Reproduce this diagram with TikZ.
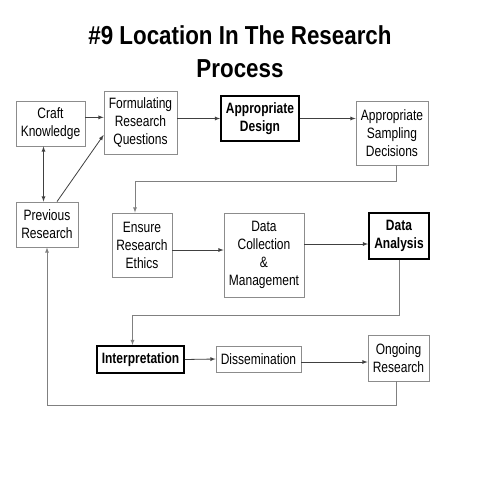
\documentclass[tikz,border=0pt]{standalone}
\usepackage{fontspec}
\setmainfont[FakeStretch=0.8]{Liberation Sans}
\newfontfamily\titlefont[FakeStretch=0.86]{Liberation Sans}
\usetikzlibrary{positioning,calc}

\tikzset{
    box/.style={draw=black!45, line width=0.8pt, align=center, inner sep=2pt,
        font=\fontsize{15}{18}\selectfont},
    keybox/.style={box, draw=black, line width=1.8pt, font=\fontsize{15}{18}\selectfont\bfseries},
    arr/.style={->, >=latex, line width=0.8pt, draw=black!75},
    back/.style={arr, draw=black!50},
}

\begin{document}
\begin{tikzpicture}[x=1pt,y=-1pt]
        \fill[white] (0,0) rectangle (480,480);
        \useasboundingbox (0,0) rectangle (480,480);
        % \draw[very thin,color=gray] (0,0) grid[step=20] (480,480);

        \node[anchor=base] (title1) at (240,44) {\titlefont\fontsize{26}{32}\selectfont\bfseries \#9 Location In The Research};
        \node[anchor=base] (title2) at (240,77) {\titlefont\fontsize{26}{32}\selectfont\bfseries Process};

        \node[box, minimum width=69pt, minimum height=45pt] (craft) at (50.5,123.5) {Craft\\Knowledge};
        \node[box, minimum width=73pt, minimum height=63pt] (formq) at (140.5,122.5) {Formulating\\Research\\Questions};
        \node[keybox, minimum width=78pt, minimum height=45pt] (design) at (260,118.5) {Appropriate\\Design};
        \node[box, minimum width=72pt, minimum height=64pt] (sampling) at (392,133) {Appropriate\\Sampling\\Decisions};
        \node[box, minimum width=62pt, minimum height=45pt] (prev) at (47,224.5) {Previous\\Research};
        \node[box, minimum width=60pt, minimum height=64pt] (ethics) at (142,245) {Ensure\\Research\\Ethics};
        \node[box, minimum width=80pt, minimum height=84pt] (collect) at (264,255) {Data\\Collection\\\&\\Management};
        \node[keybox, minimum width=60pt, minimum height=46pt] (analysis) at (399,236) {Data\\Analysis};
        \node[keybox, minimum width=87pt, minimum height=27pt] (interp) at (140.5,359.5) {Interpretation};
        \node[box, minimum width=85pt, minimum height=26pt] (dissem) at (258.5,359) {Dissemination};
        \node[box, minimum width=61pt, minimum height=46pt] (ongoing) at (398.5,358) {Ongoing\\Research};

        \draw[arr] (craft.10) -- (craft.10 -| formq.west);
        \draw[arr] (formq.east |- design) -- (design.west);
        \draw[arr] (design.east) -- (design.east -| sampling.west);
        \draw[arr, <->] ([xshift=-7pt]craft.south) -- ([xshift=-7pt]craft.south |- prev.north);
        \draw[arr] ([xshift=10pt]prev.north) -- ([yshift=-12.5pt]formq.west);
        \draw[back] ([xshift=4pt]sampling.south) -- ++(0,16) -| ([xshift=-7pt]ethics.north);
        \draw[arr] ([yshift=-5pt]ethics.east) -- ([yshift=-5pt]ethics.east -| collect.west);
        \draw[arr] ([yshift=11pt]collect.east) -- ([yshift=11pt]collect.east -| analysis.west);
        \draw[back] (analysis.south) -- ++(0,55) -| ([xshift=-8pt]interp.north);
        \draw[arr] (interp.east) -- (dissem.west);
        \draw[arr] ([yshift=-3pt]dissem.east) -- ([yshift=-3pt]dissem.east -| ongoing.west);
        \draw[back] ([xshift=-2pt]ongoing.south) -- ++(0,24) -| (prev.south);
    \end{tikzpicture}
\end{document}
